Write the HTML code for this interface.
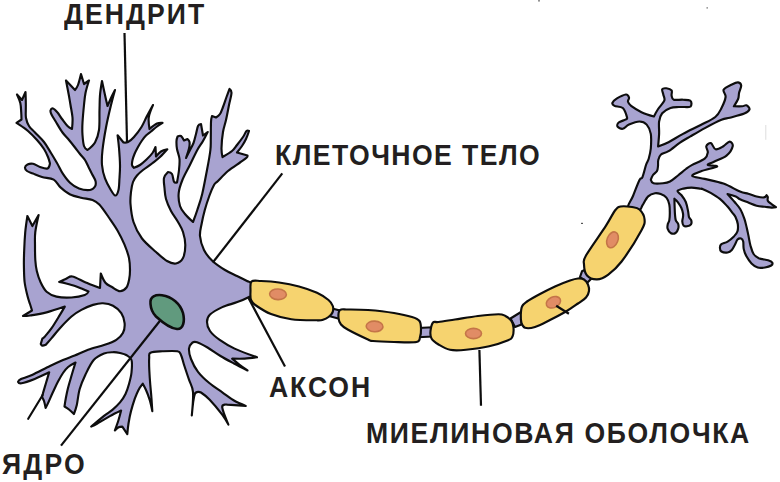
<!DOCTYPE html>
<html><head><meta charset="utf-8"><style>
html,body{margin:0;padding:0;background:#fff;}
body{width:780px;height:482px;position:relative;overflow:hidden;}
.t{position:absolute;font-family:"Liberation Sans",sans-serif;font-weight:bold;font-size:28.6px;line-height:1;color:#231f20;white-space:nowrap;transform-origin:0 0;}
svg{position:absolute;left:0;top:0;}
</style></head><body>
<svg width="780" height="482" viewBox="0 0 780 482">
<g stroke="#0d0d0d" stroke-width="2.15" stroke-linejoin="round" stroke-linecap="round">
<path d="M251.0,283.5 C250.3,281.2 249.3,282.2 247.0,281.0 C244.7,279.8 240.7,277.8 237.0,276.0 C233.3,274.2 229.1,272.5 225.0,270.0 C220.9,267.5 216.0,264.3 212.5,261.0 C209.0,257.7 206.1,254.2 204.0,250.0 C201.9,245.8 200.4,240.3 200.0,236.0 C199.6,231.7 200.8,228.3 201.6,224.0 C202.4,219.7 203.5,214.7 204.8,210.0 C206.1,205.3 207.8,200.2 209.3,196.0 C210.8,191.8 212.6,187.5 214.0,185.0 C215.4,182.5 215.7,183.3 218.0,181.0 C220.3,178.7 224.3,174.1 228.0,171.0 C231.7,167.9 236.9,164.7 240.0,162.5 C243.1,160.3 245.2,159.0 246.5,157.8 C247.8,156.6 247.5,155.5 247.5,155.5 C247.5,155.5 237.0,152.5 237.0,152.5 C237.0,152.5 240.5,148.2 242.0,146.0 C243.5,143.8 244.8,141.5 246.0,139.0 C247.2,136.5 249.0,131.0 249.0,131.0 C249.0,131.0 247.5,130.0 246.5,131.0 C245.5,132.0 244.6,134.7 243.0,137.0 C241.4,139.3 238.8,142.7 237.0,145.0 C235.2,147.3 234.4,149.0 232.0,151.0 C229.6,153.0 222.5,157.0 222.5,157.0 C222.5,157.0 221.4,152.2 221.5,148.0 C221.6,143.8 222.2,136.7 223.0,132.0 C223.8,127.3 225.0,124.5 226.0,120.0 C227.0,115.5 228.1,109.5 229.0,105.0 C229.9,100.5 231.4,95.7 231.5,93.0 C231.6,90.3 229.5,89.0 229.5,89.0 C229.5,89.0 227.6,94.0 226.5,97.0 C225.4,100.0 224.1,104.2 223.0,107.0 C221.9,109.8 221.2,112.2 220.0,114.0 C218.8,115.8 216.0,117.5 216.0,117.5 C216.0,117.5 212.0,116.0 212.0,116.0 C212.0,116.0 211.2,118.3 211.0,122.0 C210.8,125.7 210.9,133.3 210.8,138.0 C210.7,142.7 211.0,144.7 210.4,150.0 C209.8,155.3 208.4,162.7 207.0,170.0 C205.6,177.3 203.8,187.3 202.2,194.0 C200.6,200.7 198.8,205.3 197.3,210.0 C195.8,214.7 193.0,222.0 193.0,222.0 C193.0,222.0 187.2,216.7 185.0,214.0 C182.8,211.3 181.1,209.5 180.0,206.0 C178.9,202.5 178.3,197.3 178.7,193.0 C179.1,188.7 180.5,184.7 182.4,180.0 C184.3,175.3 187.4,170.0 189.9,165.0 C192.4,160.0 195.1,154.0 197.3,150.0 C199.5,146.0 201.3,144.0 203.0,141.0 C204.7,138.0 207.7,132.0 207.7,132.0 C207.7,132.0 203.0,135.5 203.0,135.5 C203.0,135.5 201.0,124.0 201.0,124.0 C201.0,124.0 198.8,124.3 198.0,126.0 C197.2,127.7 196.8,131.2 196.0,134.0 C195.2,136.8 194.6,140.2 193.5,143.0 C192.4,145.8 190.8,148.5 189.5,151.0 C188.2,153.5 186.0,158.0 186.0,158.0 C186.0,158.0 188.4,151.2 189.0,148.5 C189.6,145.8 189.8,143.6 189.5,142.0 C189.2,140.4 187.5,139.0 187.5,139.0 C187.5,139.0 184.0,140.5 184.0,140.5 C184.0,140.5 182.1,136.7 181.0,136.0 C179.9,135.3 177.6,136.5 177.6,136.5 C177.6,136.5 176.6,138.9 176.5,141.0 C176.4,143.1 176.5,146.0 177.0,149.0 C177.5,152.0 179.2,155.5 179.5,159.0 C179.8,162.5 179.4,166.1 179.0,170.0 C178.6,173.9 177.0,182.5 177.0,182.5 C177.0,182.5 174.8,183.1 174.0,181.7 C173.2,180.3 173.0,175.6 172.0,174.0 C171.0,172.4 168.0,172.0 168.0,172.0 C168.0,172.0 164.6,175.3 164.0,178.0 C163.4,180.7 164.2,184.5 164.5,188.0 C164.8,191.5 164.9,195.2 166.0,199.0 C167.1,202.8 169.0,207.2 171.0,211.0 C173.0,214.8 176.0,218.5 178.0,222.0 C180.0,225.5 181.8,228.2 183.0,232.0 C184.2,235.8 185.3,240.7 185.3,245.0 C185.3,249.3 184.6,254.9 183.0,258.0 C181.4,261.1 178.7,263.0 176.0,263.5 C173.3,264.0 170.3,262.9 167.0,261.0 C163.7,259.1 160.2,255.8 156.0,252.0 C151.8,248.2 145.8,243.5 142.0,238.5 C138.2,233.5 135.4,227.8 133.5,222.0 C131.6,216.2 130.9,209.0 130.5,204.0 C130.1,199.0 130.6,195.7 131.0,192.0 C131.4,188.3 132.0,184.8 133.0,182.0 C134.0,179.2 135.3,177.5 137.0,175.5 C138.7,173.5 140.5,172.0 143.0,170.0 C145.5,168.0 149.2,165.7 152.0,163.5 C154.8,161.3 157.4,159.4 160.0,157.0 C162.6,154.6 167.3,149.3 167.3,149.3 C167.3,149.3 162.9,150.3 161.0,151.5 C159.1,152.7 156.0,156.5 156.0,156.5 C156.0,156.5 155.5,147.0 155.5,147.0 C155.5,147.0 154.0,150.9 152.5,153.0 C151.0,155.1 148.6,157.5 146.5,159.5 C144.4,161.5 142.1,163.6 140.0,165.0 C137.9,166.4 134.0,167.8 134.0,167.8 C134.0,167.8 132.2,166.3 132.0,165.0 C131.8,163.7 132.1,161.8 132.5,160.0 C132.9,158.2 133.6,156.2 134.5,154.0 C135.4,151.8 136.8,149.2 138.0,147.0 C139.2,144.8 140.7,142.4 142.0,140.5 C143.3,138.6 144.5,137.0 146.0,135.5 C147.5,134.0 149.2,133.0 151.0,131.5 C152.8,130.0 155.1,128.0 157.0,126.5 C158.9,125.0 162.5,122.8 162.5,122.8 C162.5,122.8 159.2,122.5 157.0,123.5 C154.8,124.5 149.5,129.0 149.5,129.0 C149.5,129.0 148.2,121.0 148.8,117.0 C149.4,113.0 153.0,105.0 153.0,105.0 C153.0,105.0 148.6,112.9 146.7,116.6 C144.8,120.3 143.6,123.6 141.5,127.0 C139.4,130.4 136.2,134.5 134.0,137.0 C131.8,139.5 129.8,141.1 128.0,142.0 C126.2,142.9 123.5,142.5 123.5,142.5 C123.5,142.5 117.6,135.3 117.6,135.3 C117.6,135.3 118.6,143.1 119.0,148.0 C119.4,152.9 119.9,160.0 120.0,165.0 C120.1,170.0 119.8,173.8 119.5,178.0 C119.2,182.2 119.2,187.1 118.5,190.0 C117.8,192.9 116.6,195.6 115.3,195.5 C114.0,195.4 112.4,192.6 110.7,189.7 C109.0,186.8 106.5,182.4 105.0,178.3 C103.5,174.2 102.4,169.7 102.0,165.0 C101.6,160.3 101.8,156.2 102.5,150.0 C103.2,143.8 104.6,135.0 106.0,127.5 C107.4,120.0 109.5,111.2 111.0,105.0 C112.5,98.8 115.0,90.0 115.0,90.0 C115.0,90.0 112.2,95.3 111.0,98.0 C109.8,100.7 107.5,106.0 107.5,106.0 C107.5,106.0 105.9,99.2 105.0,95.0 C104.1,90.8 102.0,81.0 102.0,81.0 C102.0,81.0 100.4,90.2 100.0,95.0 C99.6,99.8 99.7,104.2 99.5,110.0 C99.3,115.8 99.8,124.6 99.0,130.0 C98.2,135.4 96.9,139.2 95.0,142.5 C93.1,145.8 87.5,150.0 87.5,150.0 C87.5,150.0 84.8,148.5 84.0,146.0 C83.2,143.5 82.8,138.9 82.5,135.0 C82.2,131.1 82.2,127.5 82.5,122.5 C82.8,117.5 83.5,109.9 84.0,105.0 C84.5,100.1 84.7,97.1 85.5,93.0 C86.3,88.9 89.0,80.5 89.0,80.5 C89.0,80.5 84.0,84.0 84.0,84.0 C84.0,84.0 81.0,74.0 81.0,74.0 C81.0,74.0 79.0,82.3 78.0,85.0 C77.0,87.7 75.0,90.0 75.0,90.0 C75.0,90.0 66.0,80.5 66.0,80.5 C66.0,80.5 68.0,90.9 68.8,95.0 C69.5,99.1 69.9,101.2 70.5,105.0 C71.1,108.8 72.2,113.5 72.5,117.5 C72.8,121.5 72.0,129.0 72.0,129.0 C72.0,129.0 69.2,127.7 67.5,126.0 C65.8,124.3 63.7,121.2 62.0,119.0 C60.3,116.8 59.0,114.2 57.5,112.5 C56.0,110.8 54.2,108.8 53.0,108.5 C51.8,108.2 50.8,109.5 50.5,110.5 C50.2,111.5 50.6,112.6 51.5,114.5 C52.4,116.4 54.2,119.0 56.0,122.0 C57.8,125.0 60.3,129.5 62.5,132.5 C64.7,135.5 66.9,137.5 69.0,140.0 C71.1,142.5 73.2,145.2 75.0,147.5 C76.8,149.8 78.3,151.9 80.0,154.0 C81.7,156.1 83.6,157.8 85.0,160.0 C86.4,162.2 87.3,164.7 88.5,167.0 C89.7,169.3 90.8,171.7 92.0,174.0 C93.2,176.3 95.0,178.9 95.5,181.0 C96.0,183.1 95.9,185.0 95.0,186.5 C94.1,188.0 92.7,189.7 90.0,190.0 C87.3,190.3 82.3,189.7 79.0,188.5 C75.7,187.3 72.7,185.3 70.0,182.8 C67.3,180.3 65.0,177.0 62.8,173.7 C60.6,170.4 59.0,166.4 57.0,163.0 C55.0,159.6 53.2,156.5 51.0,153.0 C48.8,149.5 46.7,145.4 44.0,142.0 C41.3,138.6 37.5,135.2 35.0,132.5 C32.5,129.8 30.5,128.4 29.0,126.0 C27.5,123.6 26.5,120.7 26.0,118.0 C25.5,115.3 25.8,112.6 25.8,110.0 C25.8,107.4 25.9,105.5 25.8,102.5 C25.8,99.5 25.5,92.0 25.5,92.0 C25.5,92.0 22.0,100.0 22.0,100.0 C22.0,100.0 17.0,94.5 17.0,94.5 C17.0,94.5 19.6,100.1 20.3,103.0 C21.0,105.9 21.0,109.2 21.2,112.0 C21.4,114.8 21.5,119.5 21.5,119.5 C21.5,119.5 16.5,122.8 16.5,122.8 C16.5,122.8 20.1,125.1 22.0,126.5 C23.9,127.9 25.5,128.8 28.0,131.0 C30.5,133.2 34.3,137.0 37.0,140.0 C39.7,143.0 42.2,146.2 44.0,149.0 C45.8,151.8 47.0,154.6 48.0,157.0 C49.0,159.4 50.0,163.5 50.0,163.5 C50.0,163.5 49.2,167.9 47.5,168.5 C45.8,169.1 42.4,167.8 40.0,167.0 C37.6,166.2 35.1,164.2 33.0,163.8 C30.9,163.4 28.8,163.9 27.5,164.5 C26.2,165.1 25.1,166.4 25.0,167.5 C24.9,168.6 25.7,170.0 27.0,171.0 C28.3,172.0 30.5,172.5 33.0,173.5 C35.5,174.5 38.5,176.0 42.0,177.0 C45.5,178.0 50.6,177.9 53.7,179.6 C56.8,181.3 57.8,185.0 60.5,187.4 C63.2,189.8 66.3,192.5 69.7,194.2 C73.1,195.9 77.3,196.8 81.1,197.7 C84.9,198.6 89.5,198.8 92.5,199.9 C95.5,201.0 96.6,201.7 99.3,204.5 C102.0,207.3 105.5,212.6 108.5,217.0 C111.5,221.4 114.9,226.1 117.6,230.7 C120.2,235.3 122.5,239.8 124.4,244.4 C126.3,249.0 128.1,253.8 129.0,258.1 C129.9,262.4 130.0,266.5 130.0,270.0 C130.0,273.5 129.8,276.1 129.2,279.0 C128.6,281.9 128.0,285.5 126.5,287.5 C125.0,289.5 122.4,291.2 120.0,291.2 C117.6,291.2 114.7,288.7 112.3,287.3 C109.9,285.9 107.3,285.0 105.4,282.7 C103.5,280.4 100.8,273.5 100.8,273.5 C100.8,273.5 100.0,288.0 100.0,288.0 C100.0,288.0 94.6,286.0 92.0,285.0 C89.4,284.0 87.9,283.3 84.6,281.9 C81.3,280.5 75.4,277.0 72.3,276.5 C69.2,276.0 68.4,277.9 66.2,278.8 C64.0,279.7 59.2,281.9 59.2,281.9 C59.2,281.9 63.6,282.8 66.2,283.5 C68.8,284.2 72.5,285.2 75.0,286.0 C77.5,286.8 79.2,287.6 81.5,288.5 C83.8,289.4 88.5,291.5 88.5,291.5 C88.5,291.5 87.6,294.0 84.8,295.0 C82.0,296.0 76.2,297.2 71.5,297.5 C66.8,297.8 60.6,297.6 56.5,296.6 C52.4,295.6 49.3,294.1 46.6,291.7 C43.9,289.3 42.1,285.4 40.5,282.0 C38.9,278.6 37.7,274.7 36.8,271.0 C35.9,267.3 35.6,264.3 35.3,260.0 C35.0,255.7 35.0,249.7 35.0,245.0 C35.0,240.3 34.7,237.0 35.3,232.0 C35.9,227.0 38.6,215.0 38.6,215.0 C38.6,215.0 32.4,226.0 32.4,226.0 C32.4,226.0 27.4,216.0 27.4,216.0 C27.4,216.0 25.7,226.9 25.2,232.6 C24.7,238.3 24.4,244.6 24.2,250.0 C24.0,255.4 23.8,259.7 23.9,265.0 C24.0,270.3 24.0,276.8 24.6,282.0 C25.2,287.2 26.6,292.3 27.5,296.0 C28.4,299.7 29.2,301.6 30.0,304.0 C30.8,306.4 32.0,310.5 32.0,310.5 C32.0,310.5 23.0,316.0 23.0,316.0 C23.0,316.0 26.1,316.1 30.0,315.5 C33.9,314.9 40.8,313.9 46.6,312.4 C52.4,310.9 64.8,306.6 64.8,306.6 C64.8,306.6 62.1,311.3 59.9,314.9 C57.7,318.5 54.1,324.6 51.6,328.2 C49.1,331.8 46.4,334.8 44.9,336.5 C43.4,338.2 42.4,338.5 42.4,338.5 C42.4,338.5 40.8,343.9 40.8,343.9 C40.8,343.9 41.6,345.5 42.4,345.6 C43.2,345.8 45.8,344.8 45.8,344.8 C45.8,344.8 49.2,340.9 51.6,338.1 C54.0,335.3 56.6,331.8 59.9,328.2 C63.2,324.6 67.9,319.6 71.5,316.5 C75.1,313.4 77.8,311.8 81.4,309.9 C85.0,308.0 89.4,306.0 93.0,304.9 C96.6,303.8 99.7,303.1 103.0,303.3 C106.3,303.5 110.0,304.2 113.0,305.8 C116.0,307.4 119.4,310.3 121.3,313.2 C123.2,316.1 124.3,319.9 124.6,323.2 C124.9,326.5 124.3,330.3 122.9,333.1 C121.5,335.9 119.3,337.9 116.3,339.8 C113.3,341.8 109.4,343.2 104.7,344.8 C100.0,346.4 93.1,347.9 88.1,349.7 C83.1,351.5 78.9,353.8 74.7,355.5 C70.5,357.2 67.1,358.2 63.0,360.0 C58.9,361.8 55.2,363.5 50.0,366.0 C44.8,368.5 36.8,372.8 32.0,375.0 C27.2,377.2 23.3,377.9 21.0,379.0 C18.7,380.1 18.0,381.8 18.0,381.8 C18.0,381.8 18.8,383.7 21.6,383.2 C24.4,382.7 30.1,380.7 34.7,378.9 C39.3,377.1 49.2,372.3 49.2,372.3 C49.2,372.3 47.1,379.4 46.0,383.0 C44.9,386.6 42.7,394.1 42.7,394.1 C42.7,394.1 42.0,395.9 42.2,397.0 C42.4,398.1 43.4,399.2 44.0,401.0 C44.6,402.8 45.6,407.9 45.6,407.9 C45.6,407.9 47.3,404.8 48.5,402.1 C49.7,399.5 51.4,395.4 53.0,392.0 C54.6,388.6 56.2,385.0 57.9,381.8 C59.6,378.6 61.3,375.5 63.0,373.0 C64.7,370.5 66.0,368.8 68.1,367.0 C70.2,365.2 75.5,362.5 75.5,362.5 C75.5,362.5 73.2,369.8 72.0,374.0 C70.8,378.2 69.0,384.0 68.0,388.0 C67.0,392.0 66.5,394.7 65.9,397.8 C65.3,400.9 64.5,406.5 64.5,406.5 C64.5,406.5 67.4,408.2 69.0,409.5 C70.6,410.8 73.9,414.0 73.9,414.0 C73.9,414.0 75.8,409.2 76.8,405.0 C77.8,400.8 78.2,394.1 79.7,389.0 C81.2,383.9 83.2,379.3 85.5,374.5 C87.8,369.7 90.6,363.5 93.7,360.0 C96.8,356.5 100.8,354.8 104.0,353.5 C107.2,352.2 110.3,352.3 113.0,352.2 C115.7,352.1 117.8,352.5 120.0,353.0 C122.2,353.5 124.3,353.8 126.2,355.0 C128.1,356.2 130.6,357.1 131.5,360.0 C132.4,362.9 131.9,368.5 131.5,372.5 C131.1,376.5 130.0,380.4 129.0,384.0 C128.0,387.6 127.0,390.9 125.5,394.0 C124.0,397.1 122.2,399.8 120.0,402.4 C117.8,405.0 115.1,407.6 112.4,409.9 C109.7,412.2 107.2,413.3 103.7,416.1 C100.2,418.9 91.2,426.6 91.2,426.6 C91.2,426.6 94.3,425.2 97.4,423.5 C100.5,421.8 106.0,418.3 109.9,416.1 C113.9,413.9 121.1,410.5 121.1,410.5 C121.1,410.5 119.6,416.5 118.6,419.8 C117.6,423.1 114.9,430.4 114.9,430.4 C114.9,430.4 117.4,427.9 118.6,427.3 C119.8,426.7 122.3,426.6 122.3,426.6 C122.3,426.6 127.3,434.1 127.3,434.1 C127.3,434.1 127.9,427.3 128.5,423.5 C129.1,419.7 129.9,415.2 131.0,411.1 C132.1,407.0 133.6,402.2 134.8,398.7 C136.1,395.2 137.2,392.5 138.5,390.0 C139.8,387.5 142.8,383.7 142.8,383.7 C142.8,383.7 144.8,387.3 146.0,390.0 C147.2,392.7 148.6,396.4 149.7,399.9 C150.8,403.4 152.3,411.1 152.3,411.1 C152.3,411.1 151.8,403.1 151.5,398.7 C151.2,394.3 150.7,389.8 150.3,385.0 C149.9,380.2 149.5,374.5 149.3,370.0 C149.1,365.5 149.0,360.9 149.2,358.0 C149.4,355.1 148.3,353.9 150.5,352.8 C152.7,351.7 157.9,351.6 162.4,351.3 C166.9,351.1 174.3,350.7 177.4,351.3 C180.5,351.9 179.9,352.8 181.0,355.0 C182.1,357.2 182.7,360.7 184.0,364.8 C185.3,368.9 187.5,375.2 189.0,379.7 C190.5,384.2 192.5,386.0 193.0,392.0 C193.5,398.0 191.8,415.5 191.8,415.5 C191.8,415.5 193.3,397.8 194.8,394.0 C196.3,390.2 201.0,392.5 201.0,392.5 C201.0,392.5 206.2,396.0 209.7,399.7 C213.2,403.4 219.1,410.5 222.2,414.6 C225.3,418.8 228.4,424.6 228.4,424.6 C228.4,424.6 222.4,410.4 222.2,407.1 C222.0,403.8 227.2,404.6 227.2,404.6 C227.2,404.6 245.8,405.9 245.8,405.9 C245.8,405.9 237.9,402.8 234.0,400.5 C230.1,398.2 226.4,395.2 222.3,392.3 C218.2,389.4 213.4,386.4 209.3,383.0 C205.2,379.6 201.1,375.8 198.0,371.8 C194.9,367.8 192.5,362.9 191.0,359.0 C189.5,355.1 188.8,351.2 189.0,348.5 C189.2,345.8 191.1,343.7 192.4,342.6 C193.7,341.6 194.5,341.4 197.0,342.2 C199.5,343.0 203.6,345.2 207.5,347.5 C211.4,349.8 216.1,353.3 220.5,356.0 C224.9,358.7 229.5,361.1 234.0,363.5 C238.5,365.9 247.5,370.5 247.5,370.5 C247.5,370.5 242.2,366.8 239.6,364.8 C237.0,362.8 232.2,358.6 232.2,358.6 C232.2,358.6 240.5,358.8 244.6,358.6 C248.7,358.4 257.0,357.3 257.0,357.3 C257.0,357.3 240.8,351.5 234.6,348.6 C228.4,345.7 223.8,342.8 219.7,339.9 C215.6,337.0 212.1,334.0 210.0,331.0 C207.9,328.0 207.0,324.7 207.0,322.0 C207.0,319.3 207.4,317.1 210.0,314.6 C212.6,312.1 217.8,309.2 222.3,307.1 C226.9,305.0 232.9,303.8 237.3,302.1 C241.7,300.5 246.2,298.4 248.5,297.2 C250.8,296.0 250.6,297.3 251.0,295.0 C251.4,292.7 251.7,285.8 251.0,283.5Z" fill="#a8a3d0"/>
<path d="M628.0,208.0 C627.0,205.7 631.1,200.7 633.0,196.0 C634.9,191.3 637.9,183.1 639.5,180.0 C641.1,176.9 641.3,179.8 642.4,177.3 C643.5,174.8 645.0,168.1 646.0,165.0 C647.0,161.9 647.9,161.4 648.7,158.7 C649.5,155.9 650.4,152.6 650.8,148.5 C651.1,144.4 651.5,137.9 650.8,133.9 C650.1,129.9 648.6,126.7 646.7,124.6 C644.8,122.5 642.4,121.5 639.4,121.5 C636.4,121.5 631.8,123.4 629.0,124.6 C626.2,125.8 624.7,128.5 622.8,128.8 C620.9,129.2 618.3,127.8 617.6,126.7 C616.9,125.7 617.3,123.7 618.7,122.5 C620.1,121.3 624.5,120.3 625.9,119.4 C627.3,118.5 627.5,119.2 627.0,117.3 C626.5,115.4 624.9,109.9 622.8,108.0 C620.7,106.1 616.2,106.8 614.5,105.9 C612.8,105.0 612.0,104.0 612.4,102.8 C612.8,101.6 614.4,100.1 616.6,98.7 C618.9,97.3 623.8,94.7 625.9,94.5 C628.0,94.3 628.6,96.4 629.0,97.6 C629.4,98.8 627.6,100.4 628.0,101.8 C628.4,103.2 628.9,104.2 631.1,105.9 C633.4,107.6 637.7,110.4 641.5,112.2 C645.3,114.0 653.9,116.5 653.9,116.5 C653.9,116.5 656.4,111.6 658.1,109.0 C659.8,106.4 663.4,103.1 664.3,100.7 C665.2,98.3 663.6,96.4 663.3,94.5 C662.9,92.6 661.7,90.3 662.2,89.3 C662.7,88.3 664.8,88.1 666.4,88.3 C668.0,88.5 670.7,89.2 671.6,90.4 C672.5,91.6 671.2,94.0 671.6,95.6 C672.0,97.1 671.8,99.0 673.7,99.7 C675.6,100.4 680.2,99.5 683.0,99.7 C685.8,99.9 688.8,99.8 690.2,100.7 C691.6,101.6 691.5,103.9 691.3,104.9 C691.1,106.0 691.3,106.7 689.2,107.0 C687.1,107.3 681.9,106.8 678.8,107.0 C675.7,107.2 673.3,107.0 670.5,108.0 C667.7,109.0 664.1,111.0 662.2,113.2 C660.3,115.5 659.6,118.0 659.1,121.5 C658.6,125.0 659.3,129.8 659.1,133.9 C658.9,138.1 658.1,146.4 658.1,146.4 C658.1,146.4 664.4,144.3 668.5,142.2 C672.6,140.1 677.6,136.8 683.0,133.9 C688.4,131.0 695.3,127.8 700.7,125.0 C706.1,122.2 711.8,119.8 715.3,117.0 C718.8,114.2 719.8,111.3 721.5,108.0 C723.2,104.7 725.2,100.0 725.6,97.0 C726.0,94.0 722.6,91.8 723.6,89.7 C724.6,87.6 729.5,85.7 731.9,84.5 C734.3,83.3 736.5,82.2 738.1,82.4 C739.7,82.6 741.0,83.9 741.2,85.6 C741.4,87.3 739.6,90.6 739.1,92.8 C738.6,95.0 739.0,96.8 738.1,99.0 C737.2,101.2 733.9,106.3 733.9,106.3 C733.9,106.3 740.1,106.5 742.2,106.3 C744.3,106.1 745.2,104.8 746.4,105.3 C747.6,105.8 749.9,108.0 749.5,109.4 C749.1,110.8 747.6,112.2 744.3,113.6 C741.0,115.0 733.6,116.7 729.8,117.7 C726.0,118.7 725.6,118.1 721.5,119.8 C717.4,121.5 710.1,125.3 704.9,128.1 C699.7,130.9 694.5,134.0 690.4,136.4 C686.2,138.8 683.6,140.1 680.0,142.6 C676.4,145.1 671.7,149.2 668.5,151.2 C665.3,153.2 662.7,153.0 661.0,154.5 C659.3,156.0 658.8,158.1 658.3,160.0 C657.8,161.9 658.2,164.2 658.0,166.0 C657.8,167.8 657.8,169.5 657.0,171.0 C656.2,172.5 654.0,173.5 653.0,175.0 C652.0,176.5 650.8,179.8 650.8,179.8 C650.8,179.8 651.5,182.7 653.5,183.3 C655.5,183.9 660.2,183.6 663.0,183.3 C665.8,183.0 667.5,182.8 670.0,181.5 C672.5,180.2 675.3,177.6 678.0,175.5 C680.7,173.4 683.6,170.8 686.0,169.0 C688.4,167.2 689.1,166.6 692.2,164.9 C695.3,163.2 702.1,160.8 704.7,158.7 C707.3,156.6 707.5,154.5 707.8,152.4 C708.1,150.3 705.8,147.8 706.3,146.2 C706.8,144.6 709.3,142.6 710.9,143.1 C712.5,143.6 713.5,148.8 715.6,149.3 C717.7,149.8 721.1,147.5 723.4,146.2 C725.7,144.9 728.0,141.6 729.6,141.6 C731.2,141.6 733.2,143.9 732.7,146.2 C732.2,148.5 729.6,153.0 726.5,155.6 C723.4,158.2 717.1,160.2 714.0,161.8 C710.9,163.4 707.3,164.1 707.8,164.9 C708.3,165.7 718.1,165.5 717.1,166.5 C716.1,167.5 705.8,169.5 701.6,171.1 C697.5,172.7 691.7,174.5 692.2,175.8 C692.7,177.1 699.5,177.6 704.7,178.9 C709.9,180.2 717.5,181.5 723.4,183.6 C729.3,185.7 735.9,189.9 740.0,191.6 C744.1,193.3 745.5,192.9 748.3,193.7 C751.1,194.5 754.0,195.9 756.6,196.5 C759.2,197.1 762.3,197.6 764.0,197.4 C765.7,197.2 766.6,195.2 766.6,195.2 C766.6,195.2 767.6,196.1 767.8,197.0 C768.0,197.9 767.2,199.5 767.8,200.7 C768.4,201.9 770.1,203.0 771.5,204.1 C772.9,205.2 776.0,207.2 776.0,207.2 C776.0,207.2 773.4,207.7 771.5,207.6 C769.6,207.5 767.4,207.1 764.9,206.8 C762.4,206.5 759.4,206.4 756.6,205.7 C753.8,205.0 751.1,203.7 748.3,202.6 C745.5,201.5 742.1,200.3 740.0,199.3 C737.9,198.3 737.9,197.4 735.8,196.5 C733.7,195.6 727.5,194.0 727.5,194.0 C727.5,194.0 732.3,199.3 734.4,201.8 C736.5,204.3 738.5,206.1 740.2,209.0 C741.9,211.9 743.4,216.0 744.5,219.2 C745.6,222.4 746.1,225.3 746.8,228.0 C747.4,230.7 747.8,232.5 748.4,235.4 C749.0,238.3 749.6,242.6 750.5,245.7 C751.4,248.8 752.2,251.9 753.6,254.0 C755.0,256.1 756.4,257.1 758.8,258.2 C761.2,259.2 765.9,259.6 768.1,260.3 C770.3,261.0 771.7,261.6 772.2,262.5 C772.7,263.4 772.4,264.7 771.2,265.5 C770.0,266.3 767.2,267.2 765.0,267.5 C762.8,267.8 760.0,268.2 757.7,267.5 C755.5,266.8 753.4,265.3 751.5,263.4 C749.6,261.5 747.6,258.5 746.3,256.1 C745.0,253.7 744.2,251.3 743.7,248.9 C743.2,246.5 743.6,243.3 743.2,241.6 C742.8,239.9 742.1,238.8 741.1,238.5 C740.1,238.2 738.5,238.5 737.5,239.5 C736.5,240.5 735.9,243.0 734.9,244.7 C733.9,246.4 733.0,248.6 731.8,249.9 C730.6,251.2 729.3,252.2 727.6,252.5 C725.9,252.8 722.7,252.3 721.4,251.5 C720.1,250.7 719.9,249.0 719.9,247.8 C719.9,246.6 720.1,245.2 721.4,244.2 C722.7,243.2 725.5,242.9 727.6,241.6 C729.7,240.3 732.2,238.1 733.9,236.4 C735.5,234.7 736.9,233.3 737.5,231.2 C738.1,229.1 738.1,226.4 737.8,224.0 C737.5,221.6 736.3,218.8 735.5,217.0 C734.7,215.2 734.3,215.2 732.9,213.4 C731.5,211.6 729.3,208.5 727.1,206.1 C724.9,203.7 722.6,201.1 719.9,198.9 C717.2,196.7 714.0,194.8 711.1,193.1 C708.2,191.4 704.1,189.6 702.4,188.9 C700.7,188.2 702.5,189.0 700.7,188.8 C698.9,188.6 694.4,187.6 691.5,187.6 C688.6,187.6 685.8,188.0 683.5,188.6 C681.2,189.2 677.9,189.9 677.5,191.0 C677.1,192.1 679.9,193.2 681.3,195.0 C682.7,196.8 684.7,199.3 685.8,202.0 C686.9,204.7 687.6,208.8 688.1,211.3 C688.6,213.8 688.5,215.7 689.0,217.2 C689.5,218.7 691.0,219.2 691.3,220.4 C691.6,221.6 691.7,223.4 691.0,224.4 C690.3,225.4 688.2,226.1 687.0,226.3 C685.8,226.5 684.3,226.3 683.5,225.5 C682.7,224.7 682.4,222.9 682.3,221.5 C682.2,220.1 682.9,218.3 683.0,217.0 C683.1,215.7 683.3,215.0 683.0,213.5 C682.7,212.0 682.2,209.7 681.3,207.8 C680.4,205.9 678.9,203.6 677.8,202.1 C676.6,200.6 674.4,198.7 674.4,198.7 C674.4,198.7 674.5,203.3 674.6,206.0 C674.7,208.7 674.8,212.3 675.0,214.7 C675.2,217.1 675.3,218.8 675.8,220.4 C676.3,222.0 677.8,222.6 678.2,224.0 C678.6,225.4 678.7,227.1 678.2,228.6 C677.8,230.1 676.7,232.2 675.5,233.0 C674.3,233.8 672.3,233.9 671.0,233.2 C669.7,232.5 668.1,230.1 667.6,228.6 C667.1,227.1 667.5,225.4 667.8,224.0 C668.1,222.6 669.0,222.2 669.3,220.4 C669.6,218.7 669.8,216.2 669.8,213.5 C669.8,210.8 669.9,207.1 669.3,204.4 C668.7,201.8 667.8,199.3 666.4,197.6 C665.0,195.9 662.6,194.8 660.7,194.1 C658.8,193.4 657.1,192.8 655.0,193.2 C652.9,193.6 650.3,194.4 648.2,196.4 C646.1,198.4 643.9,203.1 642.4,205.4 C640.9,207.7 641.7,209.6 639.3,210.0 C636.9,210.4 629.0,210.3 628.0,208.0Z" fill="#a8a3d0"/>
<line x1="42.7" y1="395" x2="28.2" y2="418.8" fill="none"/>
<path d="M330,308 L342,311 L340,319 L329,316Z" fill="#a8a3d0"/>
<path d="M418,328 L433,327.2 L433,336.5 L418,337.2Z" fill="#a8a3d0"/>
<path d="M510.5,318.5 L521,312 L521.5,324.5 L515,327Z" fill="#a8a3d0"/>
<path d="M580,277 L582,271.3 L586.5,269 L591.5,278.5 L587,283Z" fill="#a8a3d0"/>
<path d="M251.5,281.5 C253.2,279.8 256.4,280.8 261.0,281.0 C265.6,281.2 272.7,281.6 279.0,282.5 C285.3,283.4 292.7,284.8 299.0,286.5 C305.3,288.2 312.1,290.6 317.0,292.8 C321.9,295.1 325.9,297.8 328.5,300.0 C331.1,302.2 332.1,303.9 332.8,306.0 C333.5,308.1 333.2,310.7 332.5,312.5 C331.8,314.3 330.1,315.8 328.5,317.0 C326.9,318.2 324.9,319.2 323.0,319.8 C321.1,320.4 322.2,320.4 316.9,320.3 C311.6,320.2 298.9,320.2 291.3,319.2 C283.7,318.1 276.9,316.3 271.0,314.0 C265.1,311.7 259.3,307.8 256.0,305.5 C252.7,303.2 251.9,302.4 251.0,300.0 C250.1,297.6 250.4,294.1 250.5,291.0 C250.6,287.9 249.8,283.2 251.5,281.5Z" fill="#f6d36f"/>
<path d="M340.0,310.0 C341.6,308.6 343.3,309.5 348.0,309.5 C352.7,309.5 360.3,309.4 368.0,310.0 C375.7,310.6 386.7,311.8 394.0,313.0 C401.3,314.2 407.8,315.7 412.0,317.0 C416.2,318.3 418.0,319.0 419.5,321.0 C421.0,323.0 420.9,326.3 421.0,329.0 C421.1,331.7 420.8,334.8 420.0,337.0 C419.2,339.2 420.8,341.2 416.5,342.0 C412.2,342.8 401.2,342.2 394.0,342.0 C386.8,341.8 377.3,341.4 373.0,341.0 C368.7,340.6 372.2,341.4 368.0,339.5 C363.8,337.6 352.2,332.0 347.7,329.5 C343.2,327.0 342.5,326.4 341.0,324.5 C339.5,322.6 338.7,320.4 338.5,318.0 C338.3,315.6 338.4,311.4 340.0,310.0Z" fill="#f6d36f"/>
<path d="M433.0,322.5 C434.3,321.0 434.8,322.5 438.5,322.0 C442.2,321.5 448.4,320.5 455.0,319.5 C461.6,318.5 470.8,316.9 478.0,316.0 C485.2,315.1 493.9,314.2 498.5,314.2 C503.1,314.2 503.2,314.9 505.4,316.0 C507.6,317.1 510.1,319.1 511.5,321.0 C512.9,322.9 513.3,325.1 513.5,327.7 C513.7,330.3 513.5,334.4 512.5,336.5 C511.5,338.6 511.4,338.9 507.5,340.5 C503.6,342.1 496.1,344.8 489.2,346.3 C482.3,347.9 472.5,349.2 466.0,349.8 C459.5,350.4 454.6,350.7 450.0,349.8 C445.4,348.9 441.6,346.4 438.5,344.5 C435.4,342.6 432.8,340.8 431.5,338.5 C430.2,336.2 430.2,333.7 430.5,331.0 C430.8,328.3 431.7,324.0 433.0,322.5Z" fill="#f6d36f"/>
<path d="M522.0,306.5 C523.0,304.2 524.0,303.6 527.0,301.5 C530.0,299.4 535.3,296.5 540.0,294.0 C544.7,291.5 550.0,288.8 555.0,286.5 C560.0,284.2 566.2,281.8 570.0,280.5 C573.8,279.2 575.7,278.7 578.0,278.5 C580.3,278.3 582.3,278.5 584.0,279.5 C585.7,280.5 587.2,282.6 588.0,284.5 C588.8,286.4 589.3,288.8 589.0,291.0 C588.7,293.2 587.8,295.4 586.0,297.5 C584.2,299.6 581.3,301.2 578.0,303.5 C574.7,305.8 570.7,308.8 566.0,311.5 C561.3,314.2 555.2,317.4 550.0,320.0 C544.8,322.6 539.2,325.7 535.0,327.0 C530.8,328.3 527.2,328.5 525.0,327.8 C522.8,327.1 522.2,325.1 521.5,323.0 C520.8,320.9 520.7,317.8 520.8,315.0 C520.9,312.2 521.0,308.8 522.0,306.5Z" fill="#f6d36f"/>
<path d="M620.5,206.5 C623.3,205.9 628.8,206.5 632.0,207.0 C635.2,207.5 637.4,207.5 639.5,209.5 C641.6,211.5 644.2,215.6 644.5,219.0 C644.8,222.4 645.3,223.1 641.5,230.2 C637.7,237.3 627.2,254.1 621.6,261.5 C616.0,268.9 612.1,271.8 608.0,274.8 C603.9,277.8 600.5,279.3 597.0,279.4 C593.5,279.5 589.2,278.0 587.0,275.5 C584.8,273.0 584.1,267.8 584.0,264.4 C583.9,261.0 582.4,261.8 586.1,255.3 C589.8,248.8 601.2,233.1 606.0,225.6 C610.8,218.1 612.6,213.7 615.0,210.5 C617.4,207.3 617.7,207.1 620.5,206.5Z" fill="#f6d36f"/>
</g>
<ellipse cx="278" cy="294.3" rx="8.4" ry="5.3" transform="rotate(3 278 294.3)" fill="#e18c65" stroke="#c47548" stroke-width="1.6"/>
<ellipse cx="374.6" cy="326.4" rx="8.4" ry="5.3" transform="rotate(3 374.6 326.4)" fill="#e18c65" stroke="#c47548" stroke-width="1.6"/>
<ellipse cx="473.5" cy="333.5" rx="8" ry="5.1" transform="rotate(0 473.5 333.5)" fill="#e18c65" stroke="#c47548" stroke-width="1.6"/>
<ellipse cx="553.4" cy="302.3" rx="7.5" ry="5.3" transform="rotate(-25 553.4 302.3)" fill="#e18c65" stroke="#c47548" stroke-width="1.6"/>
<ellipse cx="612.5" cy="239.8" rx="5.4" ry="8.2" transform="rotate(22 612.5 239.8)" fill="#e18c65" stroke="#c47548" stroke-width="1.6"/>
<path d="M150.5,304 C149.5,296 156,294.5 162,295.2 C172,296.5 180.5,304 183,313 C185,321 183.5,329.5 177,329 C170,328.5 162,322 156,316.5 C152,312.5 150.8,308.5 150.5,304Z" fill="#619a7e" stroke="#0d0d0d" stroke-width="2.6"/>
<g stroke="#0d0d0d" stroke-width="2.2" stroke-linecap="butt">
<line x1="124.5" y1="33" x2="127" y2="142"/>
<line x1="282.3" y1="173.4" x2="212.8" y2="262.5"/>
<line x1="248.5" y1="298" x2="285" y2="366.5"/>
<line x1="479.4" y1="350" x2="481" y2="405.8"/>
<line x1="160" y1="320.7" x2="61" y2="445.6"/>
<line x1="556.2" y1="305.8" x2="568.9" y2="313.8"/>
</g>
<rect x="581" y="222.8" width="2" height="1.2" fill="#555"/>
<rect x="538.3" y="0" width="1.4" height="1.6" fill="#666"/>
<rect x="706.5" y="7.3" width="1.4" height="1.2" fill="#666"/>
<line x1="765.8" y1="125" x2="765.8" y2="139.8" stroke="#ddd" stroke-width="1"/>
</svg>
<div class="t" style="left:63.85px;top:0.00px;letter-spacing:2.19px;transform:scaleX(0.93)">ДЕНДРИТ</div>
<div class="t" style="left:274.50px;top:141.00px;letter-spacing:1.56px;transform:scaleX(0.93)">КЛЕТОЧНОЕ ТЕЛО</div>
<div class="t" style="left:268.60px;top:373.00px;letter-spacing:2.05px;transform:scaleX(0.93)">АКСОН</div>
<div class="t" style="left:365.90px;top:419.00px;letter-spacing:1.78px;transform:scaleX(0.93)">МИЕЛИНОВАЯ ОБОЛОЧКА</div>
<div class="t" style="left:1.70px;top:450.10px;letter-spacing:2.35px;transform:scaleX(0.93)">ЯДРО</div>
</body></html>
